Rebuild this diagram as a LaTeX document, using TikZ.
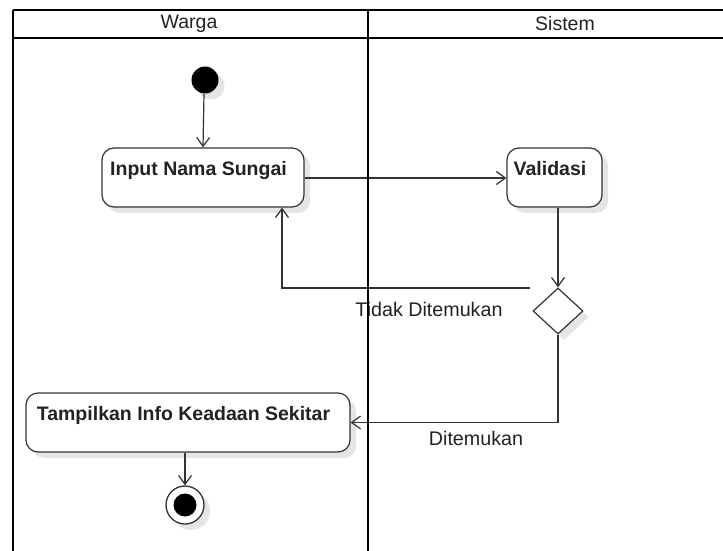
\documentclass[tikz,border=0pt]{standalone}
\usepackage{fontspec}
\setmainfont{Liberation Sans}
\usetikzlibrary{arrows.meta,shapes.geometric,shadows,calc}
\definecolor{ink}{HTML}{333333}
\definecolor{txt}{HTML}{222222}
\tikzset{
  soft/.style={drop shadow={shadow xshift=6pt,shadow yshift=-6pt,fill=black,opacity=0.1}},
  lane/.style={line width=2.2pt,black},
  act/.style={draw=ink,line width=1.2pt,rounded corners=12pt,fill=white,soft,
    inner xsep=0pt,inner ysep=0pt,text height=27pt,text depth=32pt,
    font=\fontsize{19.5}{23}\selectfont\bfseries,text=txt},
  arr/.style={draw=ink,line width=1.2pt,-{Straight Barb[length=9pt,width=13pt,line width=1.2pt]}},
  guard/.style={font=\fontsize{19.7}{23}\selectfont,text=txt,inner sep=0pt},
  head/.style={font=\fontsize{19.5}{23}\selectfont,text=txt,inner sep=0pt}
}
% trailing space pushes an activity label slightly left of the box centre
\newcommand\actlabel[1]{#1\hspace*{9pt}}
\begin{document}
\begin{tikzpicture}[x=1pt,y=-1pt]
\useasboundingbox (0,0) rectangle (723,551);
\fill[white] (0,0) rectangle (723,551);

% activities
\node[circle,fill=black,minimum size=27pt,inner sep=0pt,soft] (start) at (205,80) {};
\node[act,minimum width=202pt] (input) at (203,177.5) {\actlabel{Input Nama Sungai}};
\node[act,minimum width=95pt] (val) at (554.5,177.5) {\actlabel{Validasi}};
\node[diamond,draw=ink,line width=1.2pt,fill=white,soft,aspect=1.087,
      minimum width=50pt,minimum height=46pt,inner sep=0pt] (dec) at (558,311) {};
\node[act,minimum width=324pt] (tamp) at (188,422.5) {\actlabel{Tampilkan Info Keadaan Sekitar}};
\node[circle,draw=ink,line width=1.3pt,fill=white,minimum size=38pt,inner sep=0pt,soft] (end) at (185,505) {};
\node[circle,fill=black,minimum size=23pt,inner sep=0pt] (enddot) at (end.center) {};

% flows
\draw[arr] ([xshift=-1pt]start.south) -- ([xshift=0pt]input.north);
\draw[arr] (input.east |- 0,178) -- (val.west |- 0,178);
\draw[arr] (dec.north |- val.south) -- (dec.north);
\coordinate (tdk) at (530,288);
\draw[arr] (tdk) -| ([xshift=79pt]input.south);
\draw[arr] (dec.south) |- (tamp.east);
\draw[arr] (tamp.south -| end.north) -- (end.north);

% guards
\node[guard] (gno) at (429,309) {Tidak Ditemukan};
\node[guard] (gyes) at (476,438) {Ditemukan};

% swimlanes
\draw[lane] (13,10) -- (723,10);
\draw[lane] (13,38) -- (723,38);
\draw[lane] (13,10) -- (13,551);
\draw[lane] (368,10) -- (368,551);
\node[head] (warga) at (189,24) {Warga};
\node[head] (sistem) at (565,24) {Sistem};
\end{tikzpicture}
\end{document}
